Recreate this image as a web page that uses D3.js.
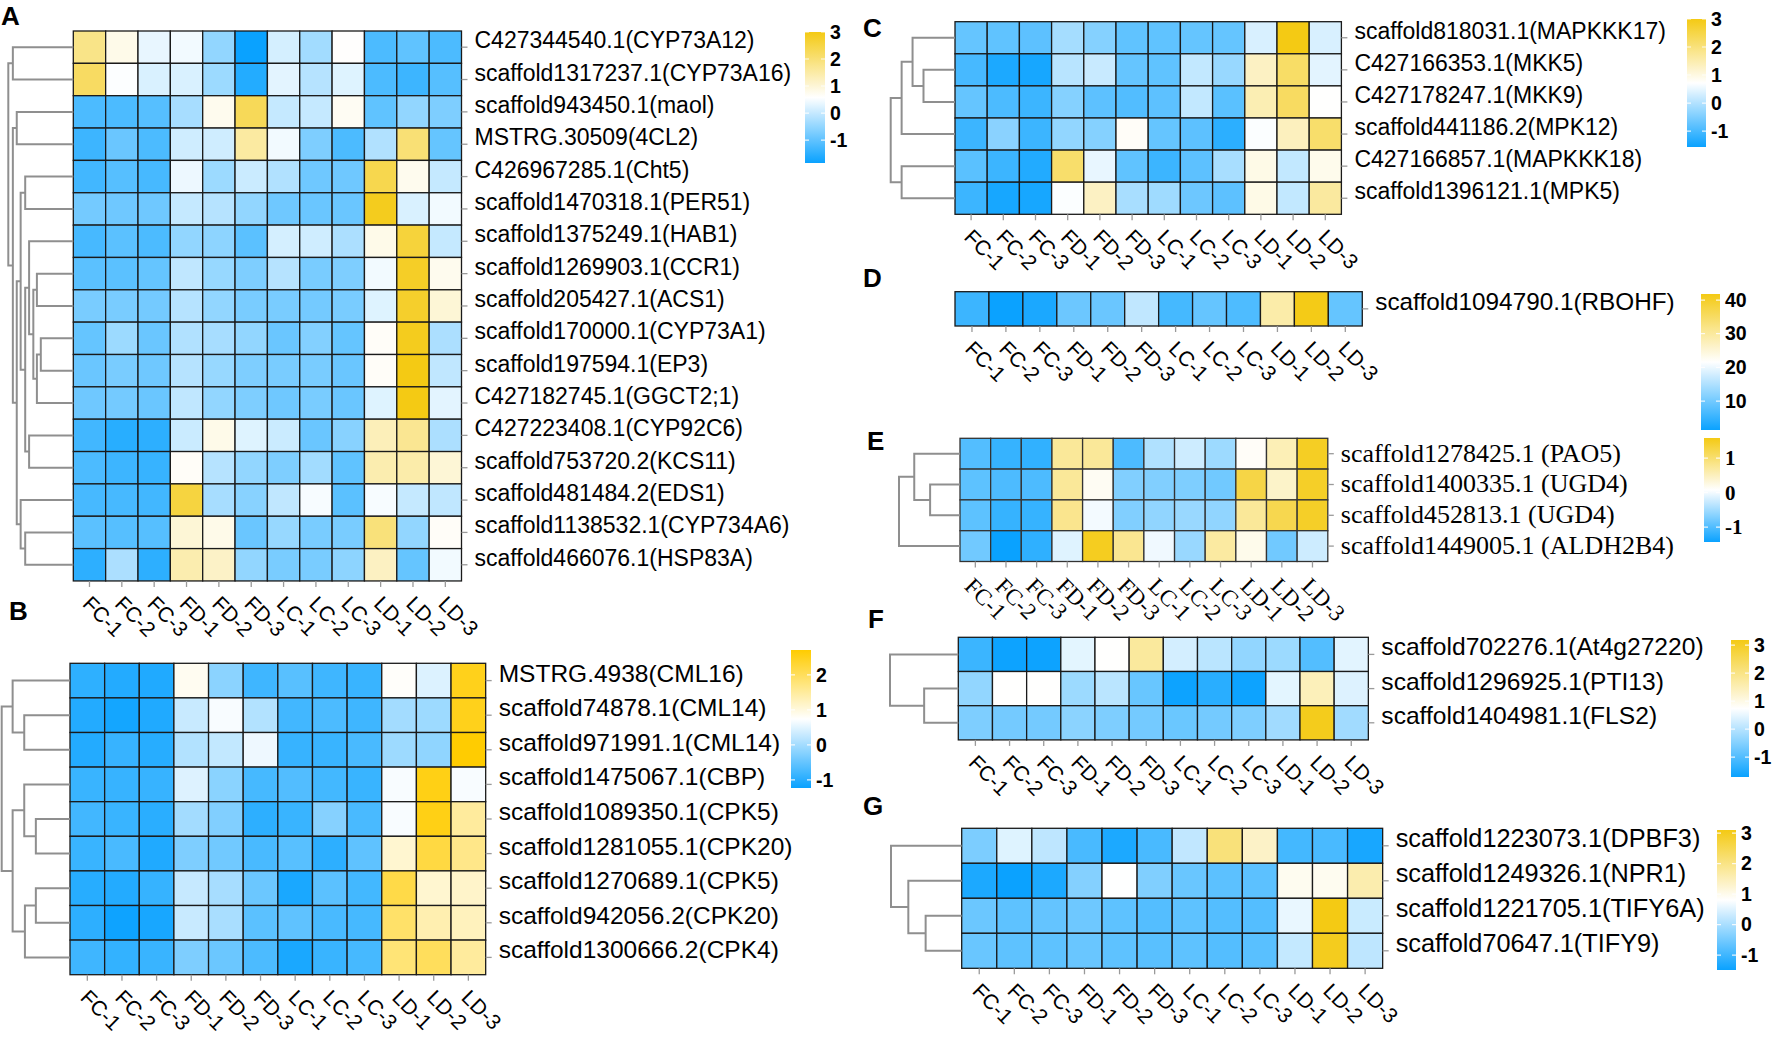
<!DOCTYPE html>
<html>
<head>
<meta charset="utf-8">
<script src="https://cdn.jsdelivr.net/npm/d3@7"></script>
<style>
  body { margin: 0; background: #fff; }
</style>
</head>
<body>
<svg id="chart" width="1772" height="1038"></svg>
<script>
// ── data ──────────────────────────────────────────────
const samples = ["FC-1", "FC-2", "FC-3", "FD-1", "FD-2", "FD-3", "LC-1", "LC-2", "LC-3", "LD-1", "LD-2", "LD-3"];

const genesA = ["C427344540.1(CYP73A12)", "scaffold1317237.1(CYP73A16)", "scaffold943450.1(maol)", "MSTRG.30509(4CL2)",
  "C426967285.1(Cht5)", "scaffold1470318.1(PER51)", "scaffold1375249.1(HAB1)", "scaffold1269903.1(CCR1)",
  "scaffold205427.1(ACS1)", "scaffold170000.1(CYP73A1)", "scaffold197594.1(EP3)", "C427182745.1(GGCT2;1)",
  "C427223408.1(CYP92C6)", "scaffold753720.2(KCS11)", "scaffold481484.2(EDS1)", "scaffold1138532.1(CYP734A6)",
  "scaffold466076.1(HSP83A)"];
const valuesA = [
  [1.8, 0.8, 0.35, 0.45, -0.5, -1.85, 0.15, -0.35, 0.6, -1.2, -1.0, -1.2],
  [2.2, 0.55, 0.2, 0.2, -0.4, -1.6, 0.3, -0.15, 0.25, -1.2, -1.35, -1.1],
  [-1.2, -1.2, -1.1, -0.3, 0.75, 2.3, 0.0, 0.0, 0.7, -1.0, -0.5, -0.7],
  [-1.35, -0.9, -1.2, 0.1, 0.1, 1.55, 0.45, -0.7, -1.2, -0.2, 2.0, -0.95],
  [-1.3, -1.1, -1.25, 0.4, -0.4, 0.05, -0.2, -0.85, -0.85, 2.4, 0.75, 0.0],
  [-0.8, -0.85, -0.85, 0.0, -0.15, -0.5, -0.85, -0.9, -0.9, 2.9, 0.2, 0.45],
  [-1.25, -1.05, -1.2, -0.5, -0.55, -1.05, 0.15, 0.1, -0.25, 0.8, 2.6, 0.0],
  [-1.05, -1.05, -0.95, -0.05, -0.45, -0.7, -0.15, -0.75, -0.7, 0.45, 2.8, 0.75],
  [-0.75, -0.75, -0.8, -0.15, -0.5, -0.75, -0.75, -0.8, -0.75, 0.25, 2.75, 1.0],
  [-0.95, -0.4, -0.9, -0.2, -0.3, -0.5, -0.9, -0.65, -0.95, 0.65, 2.9, -0.25],
  [-0.9, -0.75, -0.85, -0.15, -0.45, -0.7, -0.75, -0.75, -0.9, 0.65, 3.0, -0.05],
  [-0.85, -0.8, -0.9, -0.05, -0.5, -0.7, -0.85, -0.75, -0.9, 0.25, 3.0, 0.3],
  [-1.3, -1.55, -1.5, 0.05, 0.8, 0.25, 0.05, -0.9, -0.6, 1.3, 1.7, -0.25],
  [-1.2, -1.35, -1.4, 0.65, -0.15, -0.5, -0.7, -0.35, -1.0, 1.4, 1.45, 1.0],
  [-1.25, -1.25, -1.3, 2.55, -0.3, -0.6, -0.05, 0.5, -1.05, 0.5, 0.0, -0.05],
  [-1.05, -1.1, -1.1, 1.0, 0.8, -0.9, -0.45, -0.75, -0.75, 1.95, -0.5, 0.65],
  [-1.5, -0.25, -1.5, 1.4, 1.15, -0.5, -0.75, -0.75, -0.55, 1.2, -0.95, 0.45]
];
// [mergeHeight, left, right], leaves are row indices
const treeA = [1, [0.93, 0, 1], [0.93, [0.87, 2, 3],
  [0.87, [0.81, [0.74, 4, 5], [0.74, [0.68, 6, [0.615, [0.56, 7, 8], [0.56, [0.5, 9, 10], 11]]], [0.68, 12, 13]]],
    [0.81, 14, [0.74, 15, 16]]]]];
const rangeA = [-1.85, 3.0];
const ticksA = [3, 2, 1, 0, -1];

const genesB = ["MSTRG.4938(CML16)", "scaffold74878.1(CML14)", "scaffold971991.1(CML14)", "scaffold1475067.1(CBP)",
  "scaffold1089350.1(CPK5)", "scaffold1281055.1(CPK20)", "scaffold1270689.1(CPK5)", "scaffold942056.2(CPK20)",
  "scaffold1300666.2(CPK4)"];
const valuesB = [
  [-0.94, -1.03, -1.05, 0.85, -0.19, -0.8, -0.6, -0.8, -0.85, 0.78, 0.46, 2.5],
  [-1.03, -1.15, -1.05, 0.3, 0.68, 0.12, -0.78, -0.7, -0.8, 0.0, -0.05, 2.5],
  [-1.03, -0.87, -1.0, 0.12, 0.25, 0.6, -0.87, -0.85, -0.72, -0.05, -0.15, 2.7],
  [-0.85, -0.87, -0.87, 0.47, -0.2, -0.75, -0.65, -0.77, -0.85, 0.68, 2.55, 0.68],
  [-0.78, -0.85, -0.97, 0.0, -0.27, -0.95, -0.85, -0.23, -0.72, 0.68, 2.55, 1.5],
  [-0.85, -0.72, -1.05, -0.3, -0.4, -0.72, -0.6, -0.95, -0.55, 1.1, 2.2, 1.65],
  [-1.0, -1.03, -0.88, 0.28, 0.03, -0.45, -1.1, -0.58, -0.77, 2.15, 1.1, 1.15],
  [-0.95, -1.2, -1.12, 0.3, 0.05, -0.58, -0.55, -0.72, -0.75, 1.9, 1.35, 1.25],
  [-0.8, -0.9, -0.85, -0.3, -0.45, -0.7, -1.1, -0.85, -0.75, 1.8, 2.0, 1.5]
];
const treeB = [1, [0.84, 0, [0.67, 1, 2]], [0.84, [0.67, 3, [0.5, 4, 5]], [0.66, [0.5, 6, 7], 8]]];
const rangeB = [-1.23, 2.71];
const ticksB = [2, 1, 0, -1];

const genesC = ["scaffold818031.1(MAPKKK17)", "C427166353.1(MKK5)", "C427178247.1(MKK9)", "scaffold441186.2(MPK12)",
  "C427166857.1(MAPKKK18)", "scaffold1396121.1(MPK5)"];
const valuesC = [
  [-0.72, -0.77, -0.8, -0.12, -0.42, -0.77, -0.77, -0.72, -0.72, 0.35, 3.0, 0.35],
  [-1.0, -1.4, -1.45, 0.05, 0.2, -0.72, -0.77, 0.15, -0.25, 1.3, 2.2, 0.45],
  [-0.72, -0.95, -1.1, -0.42, -0.8, -0.9, -0.8, 0.15, -0.82, 1.45, 2.25, 0.72],
  [-1.1, -0.38, -1.1, -0.3, -0.42, 0.78, -0.72, -0.8, -1.25, 0.68, 1.35, 2.15],
  [-0.82, -1.1, -1.35, 2.15, 0.5, -0.77, -1.1, -0.8, -0.1, 0.95, 0.15, 0.9],
  [-1.1, -1.45, -1.45, 0.68, 1.3, -0.1, -0.18, -0.65, -0.8, 0.95, 0.15, 1.65]
];
const treeC = [1, [0.83, [0.66, 0, [0.49, 1, 2]], 3], [0.83, 4, 5]];
const rangeC = [-1.57, 3.0];
const ticksC = [3, 2, 1, 0, -1];

const genesD = ["scaffold1094790.1(RBOHF)"];
const valuesD = [[5.5, 1.5, 2.8, 9.5, 9.3, 16.4, 6.3, 8.9, 7.0, 29, 41.5, 8.9]];
const rangeD = [1.4, 41.8];
const ticksD = [40, 30, 20, 10];

const genesE = ["scaffold1278425.1 (PAO5)", "scaffold1400335.1 (UGD4)", "scaffold452813.1 (UGD4)", "scaffold1449005.1 (ALDH2B4)"];
const valuesE = [
  [-0.98, -1.16, -1.19, 0.73, 0.73, -1.02, -0.41, -0.23, -0.53, 0.12, 0.54, 1.48],
  [-0.92, -1.02, -1.02, 0.73, 0.15, -0.7, -0.7, -0.72, -0.8, 1.26, 0.42, 1.45],
  [-0.92, -1.16, -1.16, 0.8, 0.0, -0.7, -0.6, -0.55, -0.6, 0.73, 1.2, 1.45],
  [-0.8, -1.43, -1.2, -0.12, 1.5, 0.78, -0.02, -0.55, 0.68, 0.2, -0.8, -0.23]
];
const treeE = [1, [0.75, 0, [0.49, 1, 2]], 3];
const rangeE = [-1.43, 1.58];
const ticksE = [1, 0, -1];

const genesF = ["scaffold702276.1(At4g27220)", "scaffold1296925.1(PTI13)", "scaffold1404981.1(FLS2)"];
const valuesF = [
  [-1.22, -1.68, -1.68, 0.46, 0.75, 1.75, 0.3, 0.05, -0.35, -0.25, -0.98, 0.45],
  [-0.35, 0.75, 0.75, -0.25, 0.05, -0.77, -1.68, -1.4, -1.68, 0.46, 1.45, 0.4],
  [-0.55, -0.65, -0.65, -0.42, -0.55, -0.65, -0.75, -0.65, -0.55, -0.2, 3.1, -0.2]
];
const treeF = [1, 0, [0.5, 1, 2]];
const rangeF = [-1.71, 3.18];
const ticksF = [3, 2, 1, 0, -1];

const genesG = ["scaffold1223073.1(DPBF3)", "scaffold1249326.1(NPR1)", "scaffold1221705.1(TIFY6A)", "scaffold70647.1(TIFY9)"];
const valuesG = [
  [-0.42, 0.5, 0.2, -0.9, -1.32, -0.9, 0.22, 2.1, 1.35, -0.95, -0.9, -1.36],
  [-1.32, -1.48, -1.32, -0.35, 0.8, -0.38, -0.6, -0.72, -0.72, 0.95, 0.95, 1.6],
  [-0.58, -0.7, -0.65, -0.55, -0.7, -0.8, -0.7, -0.8, -0.8, 0.6, 3.1, 0.3],
  [-0.6, -0.7, -0.7, -0.6, -0.7, -0.75, -0.7, -0.8, -0.75, 0.25, 3.0, 0.2]
];
const treeG = [1, 0, [0.755, 1, [0.51, 2, 3]]];
const rangeG = [-1.49, 3.1];
const ticksG = [3, 2, 1, 0, -1];

// ── styles ────────────────────────────────────────────
const SANS = "'Liberation Sans', Arial, Helvetica, sans-serif";
const SERIF = "'Liberation Serif', 'Times New Roman', serif";
const LOW = "#0aa2ff", MID = "#ffffff", HIGH = "#f4ca14";

const panels = [
  { tag: "A", tagAt: [1, 25], genes: genesA, values: valuesA, tree: treeA, range: rangeA, ticks: ticksA,
    x: 73.3, y: 31, cw: 32.35, ch: 32.35, treeLeft: 8.3, font: SANS, rowSize: 23, colSize: 21,
    legend: { x: 805, y: 32, w: 20, h: 131 } },
  { tag: "B", tagAt: [9, 620], genes: genesB, values: valuesB, tree: treeB, range: rangeB, ticks: ticksB,
    x: 70, y: 663.3, cw: 34.64, ch: 34.6, treeLeft: 1.7, font: SANS, rowSize: 24.5, colSize: 21, high: "#ffcc00",
    legend: { x: 791, y: 650, w: 20, h: 138 } },
  { tag: "C", tagAt: [863, 37], genes: genesC, values: valuesC, tree: treeC, range: rangeC, ticks: ticksC,
    x: 955, y: 21.7, cw: 32.2, ch: 32.1, treeLeft: 890.7, font: SANS, rowSize: 23, colSize: 21,
    legend: { x: 1687, y: 19, w: 19, h: 128 } },
  { tag: "D", tagAt: [863, 287], genes: genesD, values: valuesD, tree: null, range: rangeD, ticks: ticksD,
    x: 955, y: 291.7, cw: 33.94, ch: 34.3, font: SANS, rowSize: 24.3, colSize: 21,
    legend: { x: 1701, y: 294, w: 19, h: 136 } },
  { tag: "E", tagAt: [867, 450], genes: genesE, values: valuesE, tree: treeE, range: rangeE, ticks: ticksE,
    x: 960, y: 438.3, cw: 30.65, ch: 30.8, treeLeft: 899, font: SERIF, rowSize: 26, colSize: 23, serif: true,
    legend: { x: 1704, y: 438, w: 16, h: 104 } },
  { tag: "F", tagAt: [868, 628], genes: genesF, values: valuesF, tree: treeF, range: rangeF, ticks: ticksF,
    x: 958.3, y: 637.3, cw: 34.17, ch: 34.2, treeLeft: 890, font: SANS, rowSize: 24.6, colSize: 21,
    legend: { x: 1731, y: 640, w: 18, h: 137 } },
  { tag: "G", tagAt: [863, 815], genes: genesG, values: valuesG, tree: treeG, range: rangeG, ticks: ticksG,
    x: 961.7, y: 828.3, cw: 35.08, ch: 35, treeLeft: 891, font: SANS, rowSize: 25.3, colSize: 21,
    legend: { x: 1717, y: 830, w: 19, h: 140 } }
];

const svg = d3.select("#chart");
svg.append("rect").attr("width", 1772).attr("height", 1038).attr("fill", "#fff");
const defs = svg.append("defs");

panels.forEach(drawPanel);

function drawPanel(p) {
  const g = svg.append("g").attr("class", "panel-" + p.tag);
  const [lo, hi] = p.range;
  const high = p.high || HIGH;
  const color = d3.scaleLinear().domain([lo, (lo + hi) / 2, hi]).range([LOW, MID, high]).clamp(true);

  const x = d3.scaleBand().domain(samples).range([p.x, p.x + p.cw * samples.length]);
  const y = d3.scaleBand().domain(p.genes).range([p.y, p.y + p.ch * p.genes.length]);
  const right = x.range()[1], bottom = y.range()[1];

  // cells
  const cells = [];
  p.values.forEach((row, i) => row.forEach((v, j) => cells.push({ gene: p.genes[i], sample: samples[j], v })));
  g.append("g").selectAll("rect").data(cells).join("rect")
    .attr("x", d => x(d.sample)).attr("y", d => y(d.gene))
    .attr("width", x.bandwidth()).attr("height", y.bandwidth())
    .attr("fill", d => color(d.v))
    .attr("stroke", p.serif ? "#333" : "#1a1a1a").attr("stroke-width", 1.3);

  // row labels
  const rowAxis = g.append("g").attr("transform", `translate(${right},0)`)
    .call(d3.axisRight(y).tickSize(6).tickPadding(7));
  rowAxis.select(".domain").remove();
  rowAxis.selectAll("line").attr("stroke", "#9a9a9a").attr("stroke-width", 1.3);
  rowAxis.selectAll("text")
    .attr("dy", p.serif ? "0.3em" : 1)
    .attr("fill", "#000")
    .style("font-family", p.font).style("font-size", p.rowSize + "px");

  // column labels
  const colAxis = g.append("g").attr("transform", `translate(0,${bottom})`)
    .call(d3.axisBottom(x).tickSize(6));
  colAxis.select(".domain").remove();
  colAxis.selectAll("line").attr("stroke", "#9a9a9a").attr("stroke-width", 1.3);
  colAxis.selectAll("text")
    .attr("x", 0).attr("y", 0).attr("dy", 0)
    .attr("transform", p.serif ? "translate(-12,26) rotate(45)" : "translate(-8,24) rotate(45)")
    .style("text-anchor", "start").attr("fill", "#000")
    .style("font-family", p.font).style("font-size", p.colSize + "px");

  // dendrogram
  if (p.tree) {
    const hx = d3.scaleLinear().domain([0, 1]).range([p.x, p.treeLeft]);
    const rowY = i => y(p.genes[i]) + y.bandwidth() / 2;
    const segs = [];
    (function walk(node) {
      if (typeof node === "number") return { y: rowY(node), h: 0 };
      const a = walk(node[1]), b = walk(node[2]);
      segs.push(`M${hx(a.h)},${a.y}H${hx(node[0])}V${b.y}H${hx(b.h)}`);
      return { y: (a.y + b.y) / 2, h: node[0] };
    })(p.tree);
    g.append("g").selectAll("path").data(segs).join("path")
      .attr("d", d => d).attr("fill", "none")
      .attr("stroke", "#8f8f8f").attr("stroke-width", 2);
  }

  // legend
  const L = p.legend;
  const gid = "grad-" + p.tag;
  const grad = defs.append("linearGradient").attr("id", gid)
    .attr("x1", 0).attr("y1", 1).attr("x2", 0).attr("y2", 0);
  d3.range(0, 1.0001, 0.05).forEach(t => {
    grad.append("stop").attr("offset", t).attr("stop-color", color(lo + t * (hi - lo)));
  });
  g.append("rect").attr("x", L.x).attr("y", L.y).attr("width", L.w).attr("height", L.h)
    .attr("fill", `url(#${gid})`);
  const ly = d3.scaleLinear().domain([lo, hi]).range([L.y + L.h, L.y]);
  g.append("g").selectAll("path").data(p.ticks).join("path")
    .attr("d", t => `M${L.x},${ly(t)}h4M${L.x + L.w - 4},${ly(t)}h4`)
    .attr("stroke", "#fff").attr("stroke-width", 1.2).attr("opacity", 0.85);
  const legAxis = g.append("g").attr("transform", `translate(${L.x + L.w},0)`)
    .call(d3.axisRight(ly).tickValues(p.ticks).tickSize(0).tickPadding(5).tickFormat(d => String(d)));
  legAxis.select(".domain").remove();
  legAxis.selectAll("text")
    .attr("fill", "#000")
    .style("font-family", p.serif ? SERIF : SANS)
    .style("font-size", p.serif ? "21px" : "19.5px").style("font-weight", "bold");

  // panel tag
  g.append("text").attr("x", p.tagAt[0]).attr("y", p.tagAt[1])
    .style("font-family", SANS).style("font-size", "26px").style("font-weight", "bold")
    .text(p.tag);
}
</script>
</body>
</html>
